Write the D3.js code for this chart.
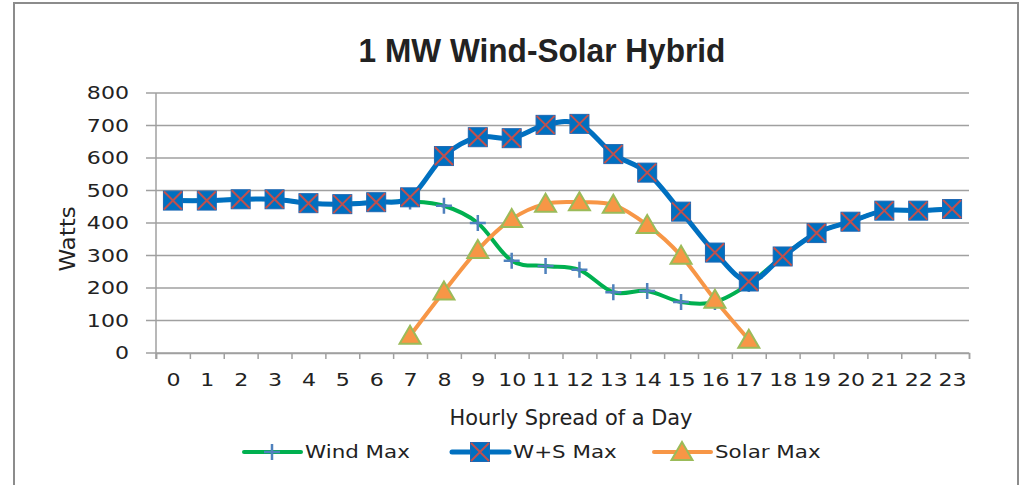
<!DOCTYPE html>
<html lang="en">
<head>
  <meta charset="UTF-8">
  <title>1 MW Wind-Solar Hybrid</title>
  <style>
    body { margin: 0; background: #fff; }
    svg { display: block; }
    text { font-family: "DejaVu Sans", sans-serif; fill: #222; }
  </style>
</head>
<body>
  <script src="https://d3js.org/d3.v7.min.js"></script>
  <script>
    // data
    const hours = d3.range(24);
    const windMax  = [469, 469, 473, 473, 461, 458, 464, 466, 453, 400, 284, 268, 256, 187, 191, 157, 157, 212, 297, 369, 404, 438, 438, 443];
    const wsMax    = [469, 469, 473, 473, 461, 458, 464, 479, 606, 664, 661, 702, 705, 612, 555, 435, 309, 220, 297, 369, 404, 438, 438, 443];
    const solarMax = [null, null, null, null, null, null, null, 53, 189, 317, 412, 459, 464, 456, 394, 299, 164, 41, null, null, null, null, null, null];
    const yTicks = [0, 100, 200, 300, 400, 500, 600, 700, 800];
    const seriesNames = ["Wind Max", "W+S Max", "Solar Max"];

    const width = 1021, height = 485;
    const plotL = 156, plotR = 969, plotT = 93, plotB = 353;
    const SX = 1.3; // the reference text is drawn wide

    const svg = d3.select("body").append("svg")
      .attr("width", width)
      .attr("height", height);

    // chart frame
    svg.append("rect")
      .attr("x", 14).attr("y", 3)
      .attr("width", 1004).attr("height", 500)
      .attr("fill", "none")
      .attr("stroke", "#8c8c8c")
      .attr("stroke-width", 2);

    const xLin = d3.scaleLinear().domain([0, 24]).range([plotL, plotR]);
    const x = i => xLin(i + 0.5);
    const y = d3.scaleLinear().domain([0, 800]).range([plotB, plotT]);

    // gridlines
    svg.append("g")
      .selectAll("line")
      .data(yTicks)
      .join("line")
      .attr("x1", plotL - 10).attr("x2", plotR)
      .attr("y1", d => y(d)).attr("y2", d => y(d))
      .attr("stroke", "#a0a0a0")
      .attr("stroke-width", 1.5);

    // y axis
    const yAxis = svg.append("g")
      .attr("transform", `translate(${plotL},0)`)
      .call(d3.axisLeft(y).tickValues(yTicks).tickSize(0).tickPadding(0));
    yAxis.select(".domain").remove();
    yAxis.append("line")
      .attr("y1", plotT).attr("y2", plotB + 6)
      .attr("stroke", "#a0a0a0").attr("stroke-width", 1.5);
    yAxis.selectAll(".tick text")
      .attr("x", -27 / SX)
      .attr("dy", "0.35em")
      .attr("transform", `scale(${SX},1)`)
      .style("font-size", "17px")
      .style("font-family", "DejaVu Sans")
      .attr("fill", "#222");

    // x axis: ticks at category boundaries, labels at centres
    const xTickAxis = svg.append("g")
      .attr("transform", `translate(0,${plotB})`)
      .call(d3.axisBottom(xLin).tickValues(d3.range(25)).tickSize(6).tickFormat(""));
    xTickAxis.select(".domain").attr("stroke", "#a0a0a0").attr("stroke-width", 1.5);
    xTickAxis.selectAll(".tick line").attr("stroke", "#a0a0a0").attr("stroke-width", 1.5);

    const xLabelAxis = svg.append("g")
      .attr("transform", `translate(0,${plotB})`)
      .call(d3.axisBottom(xLin).tickValues(hours.map(h => h + 0.5)).tickSize(0).tickPadding(21)
        .tickFormat(d => String(d - 0.5)));
    xLabelAxis.select(".domain").remove();
    xLabelAxis.selectAll(".tick text")
      .attr("transform", `scale(${SX},1)`)
      .style("font-size", "17px")
      .style("font-family", "DejaVu Sans")
      .attr("fill", "#222");

    // titles
    svg.append("text")
      .attr("transform", "translate(542,62) scale(0.93,1)")
      .attr("text-anchor", "middle")
      .style("font-family", "Liberation Sans, Arial, sans-serif")
      .style("font-weight", "bold")
      .style("font-size", "34px")
      .attr("fill", "#000")
      .text("1 MW Wind-Solar Hybrid");

    svg.append("text")
      .attr("transform", `translate(571,425) scale(1.02,1)`)
      .attr("text-anchor", "middle")
      .style("font-size", "20.5px")
      .text("Hourly Spread of a Day");

    svg.append("text")
      .attr("transform", `translate(75,239) rotate(-90) scale(1.12,1)`)
      .attr("text-anchor", "middle")
      .style("font-size", "20.5px")
      .text("Watts");

    // line generator
    const line = d3.line()
      .defined(d => d != null)
      .x((d, i) => x(i))
      .y(d => y(d))
      .curve(d3.curveCardinal.tension(0));

    // marker painters
    const markPlus = (g, cx, cy) => {
      g.append("path")
        .attr("d", `M${cx - 8},${cy}H${cx + 8}M${cx},${cy - 8}V${cy + 8}`)
        .attr("stroke", "#4f81bd").attr("stroke-width", 2.5).attr("fill", "none");
    };
    const markSquare = (g, cx, cy) => {
      g.append("rect")
        .attr("x", cx - 9.5).attr("y", cy - 9.5)
        .attr("width", 19).attr("height", 19)
        .attr("fill", "#0070c0").attr("stroke", "#1d68b4").attr("stroke-width", 1);
      g.append("path")
        .attr("d", `M${cx - 9},${cy - 9}L${cx + 9},${cy + 9}M${cx + 9},${cy - 9}L${cx - 9},${cy + 9}`)
        .attr("stroke", "#c0504d").attr("stroke-width", 2).attr("fill", "none");
    };
    const markTri = (g, cx, cy) => {
      g.append("path")
        .attr("d", `M${cx},${cy - 10}L${cx + 10.5},${cy + 8}L${cx - 10.5},${cy + 8}Z`)
        .attr("fill", "#f79646").attr("stroke", "#9bbb59").attr("stroke-width", 2);
    };

    const series = [
      { name: seriesNames[0], values: windMax,  color: "#00b050", width: 4,   mark: markPlus },
      { name: seriesNames[1], values: wsMax,    color: "#0070c0", width: 5,   mark: markSquare },
      { name: seriesNames[2], values: solarMax, color: "#f79646", width: 4,   mark: markTri }
    ];

    series.forEach(s => {
      const g = svg.append("g");
      g.append("path")
        .attr("d", line(s.values))
        .attr("fill", "none")
        .attr("stroke", s.color)
        .attr("stroke-width", s.width)
        .attr("stroke-linejoin", "round");
      s.values.forEach((v, i) => {
        if (v != null) s.mark(g, x(i), y(v));
      });
    });

    // legend
    const legendX = [244, 452, 654];
    const legendY = 452;
    series.forEach((s, k) => {
      const g = svg.append("g");
      const lx = legendX[k];
      g.append("line")
        .attr("x1", lx).attr("x2", lx + 57)
        .attr("y1", legendY).attr("y2", legendY)
        .attr("stroke", s.color).attr("stroke-width", s.width)
        .attr("stroke-linecap", "round");
      s.mark(g, lx + 28, legendY);
      g.append("text")
        .attr("transform", `translate(${lx + 61},${legendY + 6}) scale(1.26,1)`)
        .style("font-size", "17px")
        .text(s.name);
    });
  </script>
</body>
</html>
